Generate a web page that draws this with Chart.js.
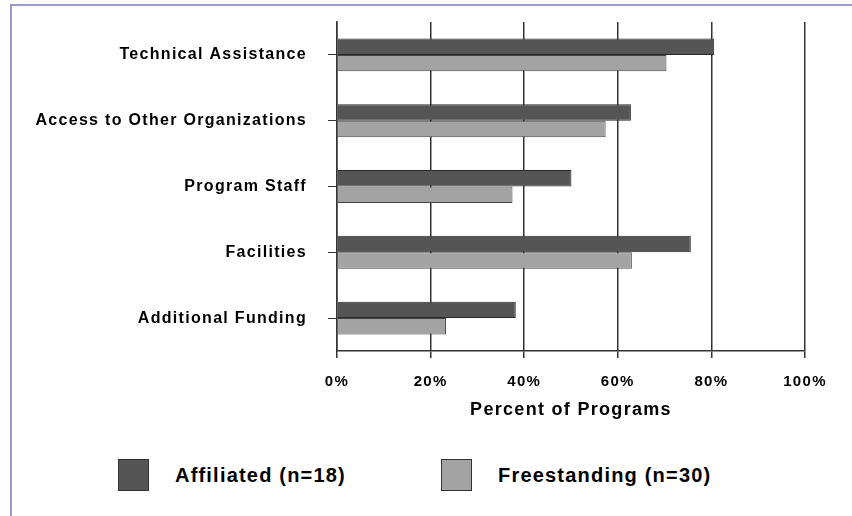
<!DOCTYPE html>
<html>
<head>
<meta charset="utf-8">
<script src="https://cdn.jsdelivr.net/npm/chart.js@4/dist/chart.umd.min.js"></script>
<style>
  body { margin: 0; background: #fff; width: 852px; height: 516px; overflow: hidden; position: relative; }
  #frame { position: absolute; left: 10px; top: 4px; right: 0; bottom: 0; border-top: 2px solid #9a9acc; border-left: 2px solid #9a9acc; }
  #chart { position: absolute; left: 0; top: 0; }
  .legend-item { position: absolute; top: 459px; height: 31px; }
  .legend-box { position: absolute; top: 0; width: 29px; height: 30px; border: 1px solid #333; }
  .legend-text { position: absolute; top: 5px; white-space: nowrap; font: bold 20px "Liberation Sans", Arial, sans-serif; letter-spacing: 1.2px; color: #000; }
</style>
</head>
<body>
<div id="frame"></div>
<canvas id="chart" width="852" height="440"></canvas>
<div id="legend"></div>
<script>
// support categories, top to bottom
const categories = ['Technical Assistance', 'Access to Other Organizations', 'Program Staff', 'Facilities', 'Additional Funding'];
// percent of programs
const affiliated = [80.6, 62.8, 50.1, 75.6, 38.2];
const freestanding = [70.4, 57.4, 37.5, 63.0, 23.3];
const seriesLabels = ['Affiliated (n=18)', 'Freestanding (n=30)'];
const xTicks = [0, 20, 40, 60, 80, 100];

const colors = ['#555555', '#a3a3a3'];
const fontFamily = '"Liberation Sans", Arial, sans-serif';

// the reference text is spaced out, canvas needs this set after every resize
const spacingPlugin = {
    id: 'spacing',
    beforeUpdate(chart) { chart.ctx.letterSpacing = '1.3px'; },
    beforeDraw(chart) { chart.ctx.letterSpacing = '1.3px'; }
};

const chart = new Chart(document.getElementById('chart'), {
    type: 'bar',
    data: {
        labels: categories,
        datasets: [
            { label: seriesLabels[0], data: affiliated, backgroundColor: colors[0], borderColor: '#2a2a2a', borderWidth: 1 },
            { label: seriesLabels[1], data: freestanding, backgroundColor: colors[1], borderColor: '#444', borderWidth: 1 },
        ],
    },
    options: {
        indexAxis: 'y',
        responsive: false,
        animation: false,
        categoryPercentage: 0.5,
        barPercentage: 1.0,
        layout: { padding: { top: 22, right: 47, left: 0, bottom: 0 } },
        plugins: {
            legend: { display: false },
            tooltip: { enabled: false },
        },
        scales: {
            x: {
                min: xTicks[0],
                max: xTicks[xTicks.length - 1],
                afterFit(scale) { scale.height = 89; },
                afterBuildTicks(scale) { scale.ticks = xTicks.map(v => ({ value: v })); },
                grid: { color: '#333', lineWidth: 1.5, tickLength: 7 },
                border: { color: '#333', width: 1.5 },
                ticks: {
                    padding: 15,
                    color: '#000',
                    font: { family: fontFamily, size: 15, weight: 'bold' },
                    callback: v => v + '%',
                },
                title: {
                    display: true,
                    text: 'Percent of Programs',
                    color: '#000',
                    font: { family: fontFamily, size: 18, weight: 'bold' },
                    padding: { top: 0, bottom: 19 },
                },
            },
            y: {
                // fixed width, and no extra top/bottom room from the label padding
                afterFit(scale) {
                    scale.width = 337;
                    scale.paddingTop = 0;
                    scale.paddingBottom = 0;
                },
                grid: { offset: false, drawOnChartArea: false, color: '#333', tickLength: 9 },
                border: { color: '#333', width: 1.5 },
                ticks: {
                    padding: 21,
                    color: '#000',
                    font: { family: fontFamily, size: 16, weight: 'bold' },
                },
            },
        },
    },
    plugins: [spacingPlugin],
});

// legend drawn as html so the gap between box and text can match
const legendLeft = [118, 441];
const legendTextGap = 57;
const legend = document.getElementById('legend');
chart.data.datasets.forEach((ds, i) => {
    const item = document.createElement('div');
    item.className = 'legend-item';
    item.style.left = legendLeft[i] + 'px';
    item.innerHTML = `<div class="legend-box" style="background:${ds.backgroundColor}"></div>` +
                     `<div class="legend-text" style="left:${legendTextGap}px">${ds.label}</div>`;
    legend.appendChild(item);
});
</script>
</body>
</html>
